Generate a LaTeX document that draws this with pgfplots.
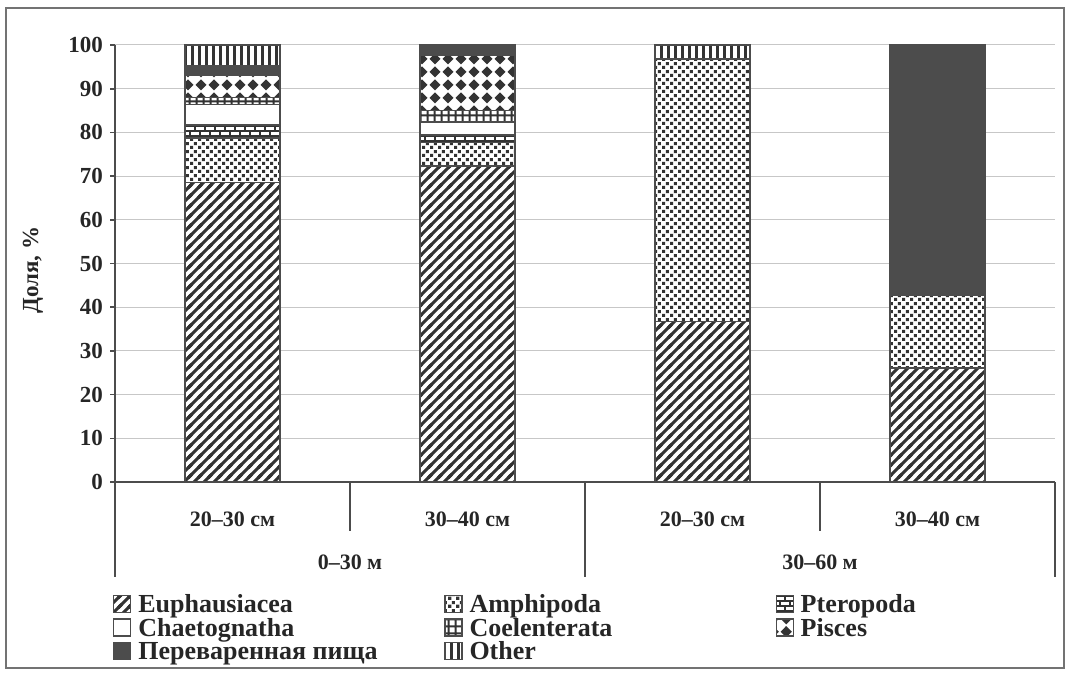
\documentclass[border=0pt]{standalone}
\usepackage{fontspec}
\setmainfont{Liberation Serif}
\usepackage{pgfplots}
\usepackage{pgfplotstable}
\pgfplotsset{compat=1.18}
\usetikzlibrary{patterns,patterns.meta}

\tikzdeclarepattern{name=pdiag, type=uncolored,
  bottom left={(-1pt,-1pt)}, top right={(6pt,6pt)}, tile size={(5pt,5pt)},
  code={\draw[line width=1.5pt] (-0.5pt,-0.5pt) -- (5.5pt,5.5pt) (-1pt,4pt) -- (1pt,6pt) (4pt,-1pt) -- (6pt,1pt);}}
\tikzdeclarepattern{name=pdots, type=uncolored,
  bottom left={(0pt,0pt)}, top right={(3.8pt,3.8pt)}, tile size={(3.8pt,3.8pt)},
  code={\fill (0.1pt,0.1pt) rectangle (1.7pt,1.7pt) (2.0pt,2.0pt) rectangle (3.6pt,3.6pt);}}
\tikzdeclarepattern{name=pbricks, type=uncolored,
  bottom left={(-0.5pt,-0.5pt)}, top right={(5.5pt,5.5pt)}, tile size={(5pt,5pt)},
  code={\draw[line width=0.7pt] (-0.5pt,0pt) -- (5.5pt,0pt) (-0.5pt,2.5pt) -- (5.5pt,2.5pt)
     (0pt,0pt) -- (0pt,2.5pt) (2.5pt,2.5pt) -- (2.5pt,5pt);}}
\tikzdeclarepattern{name=pgrid, type=uncolored,
  bottom left={(-0.2pt,-0.2pt)}, top right={(3.7pt,3.7pt)}, tile size={(3.5pt,3.5pt)},
  code={\fill (-0.2pt,-0.2pt) rectangle (0.8pt,3.7pt) (-0.2pt,-0.2pt) rectangle (3.7pt,0.8pt);}}
\tikzdeclarepattern{name=pdiam, type=uncolored,
  bottom left={(0pt,0pt)}, top right={(6.5pt,6.5pt)}, tile size={(6.5pt,6.5pt)},
  code={\fill (3.25pt,0.3pt) -- (6.2pt,3.25pt) -- (3.25pt,6.2pt) -- (0.3pt,3.25pt) -- cycle;}}
\tikzdeclarepattern{name=pvert, type=uncolored,
  bottom left={(0pt,-0.3pt)}, top right={(3.5pt,3.8pt)}, tile size={(3.5pt,3.5pt)},
  code={\fill (1.0pt,-0.3pt) rectangle (2.5pt,3.8pt);}}

\definecolor{barline}{rgb}{0.3,0.3,0.3}
\definecolor{patcol}{rgb}{0.2,0.2,0.2}
\definecolor{digest}{rgb}{0.3,0.3,0.3}

\pgfplotstableread{
x euph amph pter chaet coel pisces dig other
0 68.6 10.1 3.0 4.6 1.6 5.2 2.3 4.6
1 72.3 5.3 1.8 3.0 2.7 12.6 2.3 0.0
2 36.8 60.0 0.0 0.0 0.0 0.0 0.0 3.2
3 26.1 16.5 0.0 0.0 0.0 0.0 57.4 0.0
}\diettable

\begin{document}
\begin{tikzpicture}
\useasboundingbox (0,0) rectangle (535.5pt,338pt);
\draw[black!55, line width=0.9pt] (3pt,4pt) rectangle (532pt,334pt);
\node[rotate=90, font=\fontsize{11.5}{13}\selectfont\bfseries, text=black!85] at (16.5pt,203pt) {Доля, \%};
\begin{axis}[
  at={(57.5pt,97pt)}, anchor=south west,
  scale only axis, width=470pt, height=218.5pt,
  ybar stacked, bar width=47.5pt,
  xmin=-0.5, xmax=3.5, ymin=0, ymax=100,
  xtick=\empty,
  ytick={0,10,...,100},
  axis x line=bottom, axis y line=left,
  axis line style={-, black!70, line width=0.8pt},
  tick align=outside, major tick length=2.5pt,
  ytick style={black!70, line width=0.8pt},
  ymajorgrids, grid style={black!22, line width=0.5pt},
  yticklabel style={font=\fontsize{11.5}{13}\selectfont\bfseries, text=black!85},
  /pgf/number format/assume math mode=true,
  clip=false,
  legend columns=3,
  legend style={at={(-0.002,-0.2586)}, anchor=north west, draw=none, fill=none,
    inner sep=0pt, outer sep=0pt, row sep=0.5pt,
    font=\fontsize{13}{15}\selectfont\bfseries, text=black!85,
    nodes={inner sep=0pt, text height=8.6pt, text depth=2.4pt, anchor=base west},
    /tikz/every odd column/.append style={column sep=3.5pt}},
  legend image code/.code={\draw[#1] (0pt,0pt) rectangle (8.5pt,8.5pt);},
  every axis plot/.append style={draw=barline, line width=0.6pt},
]
\addplot[fill=white, postaction={pattern=pdiag, pattern color=patcol}] table[x=x,y=euph]{\diettable};
\addplot[fill=white, postaction={pattern=pdots, pattern color=patcol}] table[x=x,y=amph]{\diettable};
\addplot[fill=white, postaction={pattern=pbricks, pattern color=patcol}] table[x=x,y=pter]{\diettable};
\addplot[fill=white] table[x=x,y=chaet]{\diettable};
\addplot[fill=white, postaction={pattern=pgrid, pattern color=patcol}] table[x=x,y=coel]{\diettable};
\addplot[fill=white, postaction={pattern=pdiam, pattern color=patcol}] table[x=x,y=pisces]{\diettable};
\addplot[fill=digest] table[x=x,y=dig]{\diettable};
\addplot[fill=white, postaction={pattern=pvert, pattern color=patcol}] table[x=x,y=other]{\diettable};
\legend{\makebox[153pt][l]{Euphausiacea},\makebox[153pt][l]{Amphipoda},\makebox[153pt][l]{Pteropoda},
  \makebox[153pt][l]{Chaetognatha},\makebox[153pt][l]{Coelenterata},\makebox[153pt][l]{Pisces},
  \makebox[153pt][l]{Переваренная пища},\makebox[153pt][l]{Other}}
\draw[black!70, line width=0.6pt] (axis cs:-0.5,0) -- ++(0pt,-47.5pt);
\draw[black!70, line width=0.6pt] (axis cs:1.5,0) -- ++(0pt,-47.5pt);
\draw[black!70, line width=0.6pt] (axis cs:3.5,0) -- ++(0pt,-47.5pt);
\draw[black!70, line width=0.6pt] (axis cs:0.5,0) -- ++(0pt,-24.5pt);
\draw[black!70, line width=0.6pt] (axis cs:2.5,0) -- ++(0pt,-24.5pt);
\node[font=\fontsize{11}{13}\selectfont\bfseries, text=black!85] at ([yshift=-18.5pt]axis cs:0,0) {20–30 см};
\node[font=\fontsize{11}{13}\selectfont\bfseries, text=black!85] at ([yshift=-18.5pt]axis cs:1,0) {30–40 см};
\node[font=\fontsize{11}{13}\selectfont\bfseries, text=black!85] at ([yshift=-18.5pt]axis cs:2,0) {20–30 см};
\node[font=\fontsize{11}{13}\selectfont\bfseries, text=black!85] at ([yshift=-18.5pt]axis cs:3,0) {30–40 см};
\node[font=\fontsize{11}{13}\selectfont\bfseries, text=black!85] at ([yshift=-40pt]axis cs:0.5,0) {0–30 м};
\node[font=\fontsize{11}{13}\selectfont\bfseries, text=black!85] at ([yshift=-40pt]axis cs:2.5,0) {30–60 м};
\end{axis}
\end{tikzpicture}
\end{document}
